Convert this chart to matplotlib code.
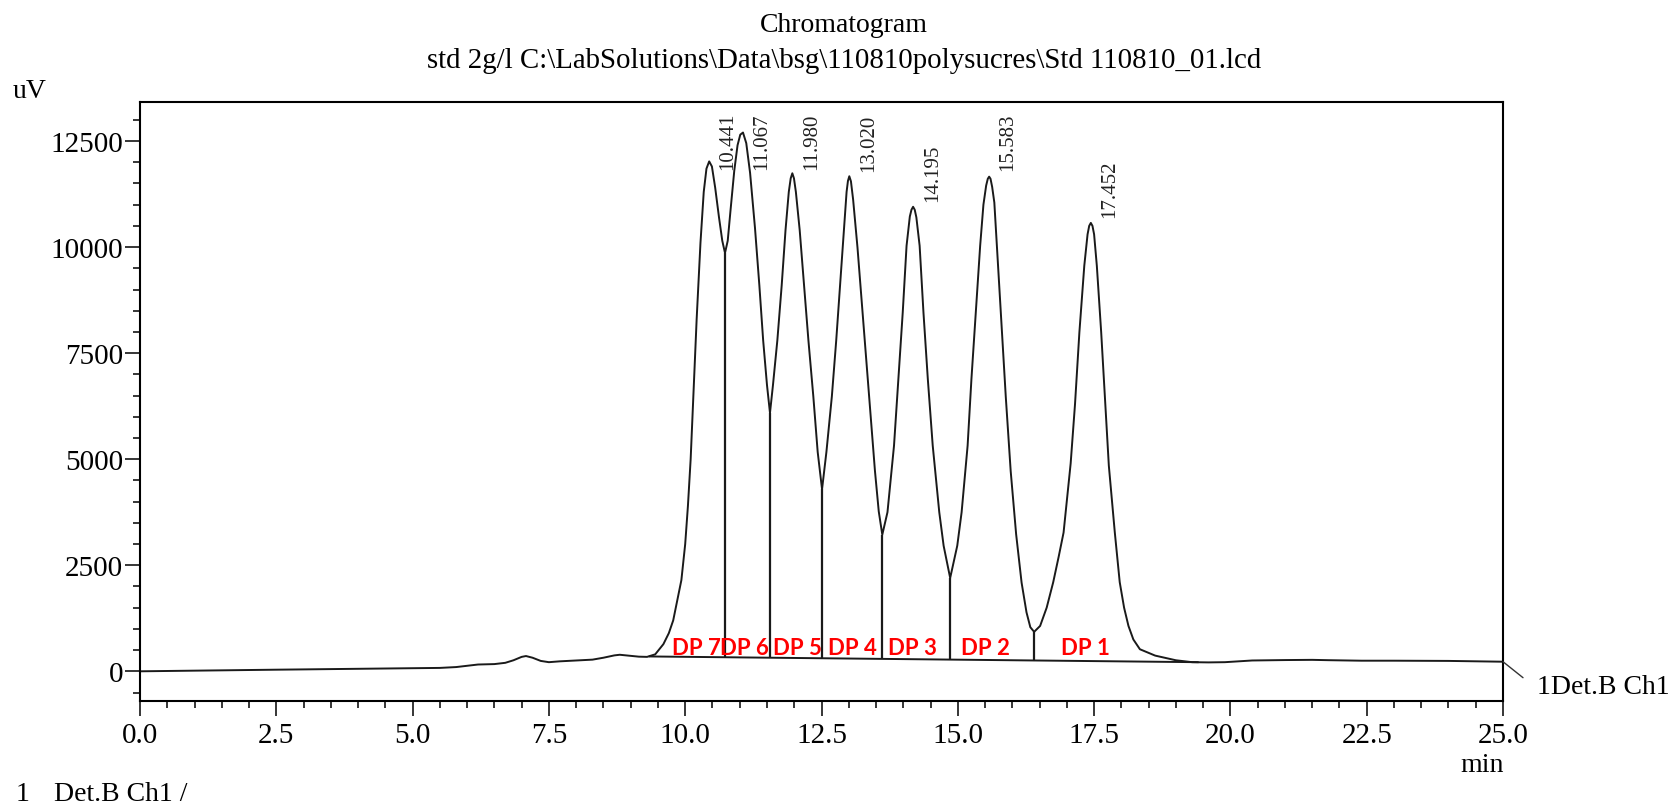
import numpy as np
import matplotlib
matplotlib.use("Agg")
import matplotlib.pyplot as plt
from matplotlib.ticker import MultipleLocator

# Signal (time in min, signal in uV)
time_min = [
    0.0, 0.5, 1.0, 1.5, 2.0, 2.5, 3.0, 3.5, 4.0, 4.5, 5.0, 5.5, 5.8, 6.0, 6.2,
    6.5, 6.7, 6.85, 7.0, 7.08, 7.2, 7.35, 7.5, 7.7, 8.0, 8.3, 8.5, 8.7, 8.8,
    8.95, 9.15, 9.3, 9.45, 9.6, 9.7, 9.78, 9.86, 9.93, 10.0, 10.05, 10.10,
    10.15, 10.21, 10.28, 10.34, 10.39, 10.44, 10.49, 10.55, 10.62, 10.68,
    10.73, 10.78, 10.83, 10.90, 10.96, 11.01, 11.06, 11.12, 11.19, 11.28,
    11.36, 11.43, 11.50, 11.555, 11.61, 11.69, 11.77, 11.84, 11.90, 11.935,
    11.965, 11.995, 12.03, 12.10, 12.18, 12.26, 12.35, 12.43, 12.51, 12.59,
    12.69, 12.77, 12.84, 12.91, 12.96, 12.985, 13.01, 13.04, 13.08, 13.16,
    13.24, 13.32, 13.40, 13.48, 13.55, 13.615, 13.71, 13.83, 13.91, 13.99,
    14.06, 14.12, 14.15, 14.18, 14.21, 14.24, 14.30, 14.37, 14.45, 14.54,
    14.66, 14.74, 14.86, 14.99, 15.07, 15.18, 15.25, 15.33, 15.41, 15.47,
    15.52, 15.55, 15.575, 15.60, 15.63, 15.67, 15.72, 15.80, 15.88, 15.97,
    16.07, 16.17, 16.26, 16.33, 16.40, 16.51, 16.63, 16.75, 16.85, 16.94,
    17.07, 17.15, 17.23, 17.32, 17.38, 17.41, 17.44, 17.47, 17.50, 17.55,
    17.63, 17.70, 17.77, 17.88, 17.97, 18.05, 18.13, 18.22, 18.34, 18.62,
    19.0, 19.3, 19.6, 19.9, 20.4, 21.0, 21.5, 21.8, 22.4, 23.0, 24.0, 25.0,
]
signal_uv = [
    0, 8, 15, 22, 30, 38, 45, 52, 60, 68, 72, 80, 100, 130, 160,
    170, 200, 260, 340, 360, 320, 245, 215, 235, 255, 275, 320, 375, 390,
    370, 345, 340, 400, 640, 900, 1200, 1700, 2150, 3000, 3900, 5000,
    6500, 8300, 10100, 11300, 11850, 12020, 11900, 11400, 10700, 10150,
    9860, 10150, 10850, 11800, 12400, 12650, 12700, 12450, 11750, 10450,
    9100, 7800, 6750, 6090, 6750, 7800, 9100, 10400, 11300, 11620,
    11740, 11620, 11300, 10400, 9100, 7800, 6480, 5170, 4290, 5170,
    6480, 7800, 9100, 10400, 11300, 11560, 11670, 11550, 11120, 9990,
    8670, 7360, 6040, 4730, 3770, 3220, 3750, 5320, 6890, 8460,
    10030, 10720, 10880, 10950, 10880, 10700, 10030, 8460, 6890, 5320,
    3750, 2960, 2200, 2960, 3750, 5320, 6890, 8460, 10030, 11000,
    11450, 11610, 11660, 11610, 11420, 11050, 9970, 8220, 6470, 4720,
    3230, 2090, 1390, 1040, 930, 1070, 1500, 2100, 2700, 3270,
    4900, 6300, 7990, 9560, 10300, 10500, 10570, 10500, 10300, 9560,
    7990, 6420, 4850, 3270, 2100, 1500, 1070, 750, 520, 370,
    260, 215, 210, 215, 255, 265, 270, 262, 250, 250, 245, 226,
]

peak_rt = [10.441, 11.067, 11.980, 13.020, 14.195, 15.583, 17.452]
valley_t = [10.73, 11.555, 12.51, 13.615, 14.86, 16.40]
baseline_t = [9.35, 19.4]
baseline_uv = [350, 215]
dp_names = ["DP 7", "DP 6", "DP 5", "DP 4", "DP 3", "DP 2", "DP 1"]
dp_t = [10.20, 11.08, 12.05, 13.06, 14.16, 15.51, 17.35]
dp_level = 570

serif = "Liberation Serif"
plt.rcParams["font.family"] = serif

fig = plt.figure(figsize=(16.73, 8.12), dpi=100)
ax = fig.add_axes([0.08368, 0.13547, 0.81471, 0.73768])

line_col = "#1a1a1a"
ax.plot(time_min, signal_uv, color=line_col, lw=1.4)

# integration baseline and drop lines
ax.plot(baseline_t, baseline_uv, color=line_col, lw=1.4)
valley_v = np.interp(valley_t, time_min, signal_uv)
drop_bottom = np.interp(valley_t, baseline_t, baseline_uv)
ax.vlines(valley_t, drop_bottom, valley_v, color=line_col, lw=1.6)

# retention time labels
apex_v = np.interp(peak_rt, time_min, signal_uv)
for rt, h in zip(peak_rt, apex_v):
    ax.text(rt + 0.34, min(h + 170, 11830), f"{rt:.3f}", rotation=90,
            ha="center", va="bottom", fontsize=15, color="#222222")

for name, x in zip(dp_names, dp_t):
    ax.text(x, dp_level, name, ha="center", va="center", color="#ff0000",
            fontsize=16, fontweight="bold", family="Lato")

ax.set_xlim(0, 25)
ax.set_ylim(-700, 13420)
ax.xaxis.set_major_locator(MultipleLocator(2.5))
ax.xaxis.set_minor_locator(MultipleLocator(0.5))
ax.yaxis.set_major_locator(MultipleLocator(2500))
ax.yaxis.set_minor_locator(MultipleLocator(500))
ax.xaxis.set_major_formatter(lambda v, p: f"{v:.1f}")
ax.yaxis.set_major_formatter(lambda v, p: f"{v:.0f}")
ax.tick_params(which="major", direction="out", length=10.5, width=1.1,
               labelsize=21, colors="black")
ax.tick_params(which="minor", direction="out", length=5, width=1.1)
ax.tick_params(axis="y", which="major", pad=1.5)
ax.tick_params(axis="x", which="major", pad=4.5)
for s in ax.spines.values():
    s.set_linewidth(1.5)
    s.set_color("black")

# detector label at the trace end
end_v = signal_uv[-1]
ax.annotate("", xy=(25, end_v), xytext=(14.4, -11.5), textcoords="offset points",
            arrowprops=dict(arrowstyle="-", lw=1.0, color="#333333",
                            shrinkA=0, shrinkB=0), annotation_clip=False)
ax.annotate("1Det.B Ch1", xy=(25, end_v), xytext=(24.5, -17.5),
            textcoords="offset points", ha="left", va="center", fontsize=20,
            annotation_clip=False)

fig.text(0.5045, 0.969, "Chromatogram", ha="center", va="center", fontsize=20)
fig.text(0.5045, 0.9245,
         r"std 2g/l C:\LabSolutions\Data\bsg\110810polysucres\Std 110810_01.lcd",
         ha="center", va="center", fontsize=20.8)
fig.text(13 / 1673, 1 - 91 / 812, "uV", ha="left", va="center", fontsize=20)
fig.text(1504 / 1673, 1 - 766 / 812, "min", ha="right", va="center", fontsize=20)
fig.text(16 / 1673, 1 - 795 / 812, "1", ha="left", va="center", fontsize=20)
fig.text(54 / 1673, 1 - 795 / 812, "Det.B Ch1 /", ha="left", va="center", fontsize=20)

fig.savefig("out.png", dpi=100)
